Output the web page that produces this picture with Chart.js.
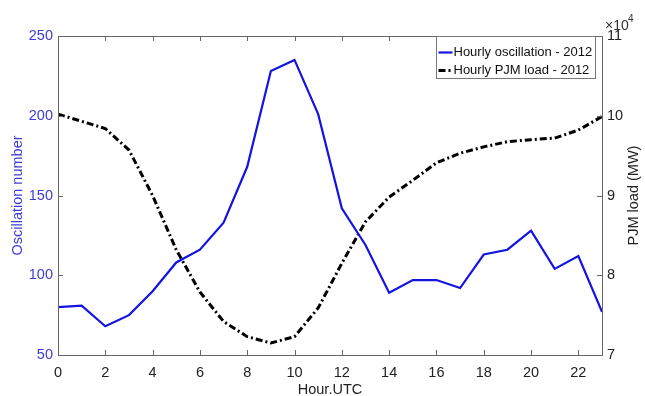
<!DOCTYPE html>
<html>
<head>
<meta charset="utf-8">
<script src="https://cdn.jsdelivr.net/npm/chart.js@4"></script>
<style>
  html, body { margin: 0; padding: 0; background: #fff; }
  #wrap { width: 645px; height: 396px; }
</style>
</head>
<body>
<div id="wrap"><canvas id="oscChart" width="645" height="396"></canvas></div>
<script>
const hours = [0, 1, 2, 3, 4, 5, 6, 7, 8, 9, 10, 11, 12, 13, 14, 15, 16, 17, 18, 19, 20, 21, 22, 23];
const oscillation = [80, 81, 68, 75, 90, 108, 116, 133, 168, 228, 235, 201, 142, 119, 89, 97, 97, 92, 113, 116, 128, 104, 112, 77];
const pjmLoad = [100200, 99300, 98400, 95700, 90000, 83200, 77900, 74200, 72300, 71500, 72300, 75900,
  81500, 86700, 89800, 91900, 94100, 95300, 96100, 96750, 97000, 97200, 98200, 99900];
const seriesNames = ["Hourly oscillation - 2012", "Hourly PJM load - 2012"];
const xTicks = [0, 2, 4, 6, 8, 10, 12, 14, 16, 18, 20, 22];

const FONT = "'Liberation Sans', Arial, Helvetica, sans-serif";
const AXIS = "#666";
const BLUE = "rgb(20, 20, 225)";
const BLUE_TEXT = "rgb(60, 60, 215)";
const LOAD_DASH = [7, 3, 2, 3];

// box, inward tick marks, in-plot legend, right title and exponent
const matlabFrame = {
  id: "matlabFrame",
  afterDatasetsDraw(chart) {
    const { ctx, chartArea: a, scales } = chart;
    const len = 5;
    ctx.save();
    ctx.strokeStyle = AXIS;
    ctx.lineWidth = 1;
    ctx.strokeRect(Math.round(a.left) + 0.5, Math.round(a.top) + 0.5,
      Math.round(a.right - a.left), Math.round(a.bottom - a.top));
    ctx.beginPath();
    scales.x.ticks.forEach((t) => {
      const px = Math.round(scales.x.getPixelForValue(t.value)) + 0.5;
      ctx.moveTo(px, a.bottom); ctx.lineTo(px, a.bottom - len);
      ctx.moveTo(px, a.top); ctx.lineTo(px, a.top + len);
    });
    scales.y.ticks.forEach((t) => {
      const py = Math.round(scales.y.getPixelForValue(t.value)) + 0.5;
      ctx.moveTo(a.left, py); ctx.lineTo(a.left + len, py);
    });
    scales.y1.ticks.forEach((t) => {
      const py = Math.round(scales.y1.getPixelForValue(t.value)) + 0.5;
      ctx.moveTo(a.right, py); ctx.lineTo(a.right - len, py);
    });
    ctx.stroke();

    // legend box in the top right corner
    const bx = 436.5, by = a.top + 0.5, bw = 159, bh = 42;
    ctx.fillStyle = "#fff";
    ctx.fillRect(bx, by, bw, bh);
    ctx.strokeStyle = "#777";
    ctx.strokeRect(bx, by, bw, bh);
    ctx.font = "13px " + FONT;
    ctx.textBaseline = "middle";
    ctx.textAlign = "left";
    chart.data.datasets.forEach((ds, i) => {
      const ly = by + 16 + i * 18;
      ctx.beginPath();
      ctx.strokeStyle = ds.borderColor;
      ctx.lineWidth = ds.borderWidth;
      ctx.setLineDash(ds.borderDash || []);
      ctx.moveTo(bx + 2, ly);
      ctx.lineTo(bx + 16, ly);
      ctx.stroke();
      ctx.setLineDash([]);
      ctx.fillStyle = "#111";
      ctx.fillText(ds.label, bx + 17, ly);
    });

    // right axis title, reading upward
    ctx.save();
    ctx.translate(634, (a.top + a.bottom) / 2);
    ctx.rotate(-Math.PI / 2);
    ctx.font = "14.5px " + FONT;
    ctx.fillStyle = "#222";
    ctx.textAlign = "center";
    ctx.textBaseline = "middle";
    ctx.fillText("PJM load (MW)", 0, 0);
    ctx.restore();

    // exponent of the right axis
    ctx.fillStyle = "#333";
    ctx.textAlign = "left";
    ctx.textBaseline = "alphabetic";
    ctx.font = "14px " + FONT;
    ctx.fillText("\u00d710", 605, 30);
    ctx.font = "10px " + FONT;
    ctx.fillText("4", 628, 22);
    ctx.restore();
  },
};

new Chart(document.getElementById("oscChart"), {
  type: "line",
  data: {
    datasets: [
      {
        label: seriesNames[0],
        data: hours.map((h, i) => ({ x: h, y: oscillation[i] })),
        borderColor: BLUE,
        borderWidth: 2.2,
        pointRadius: 0,
        tension: 0,
        yAxisID: "y",
      },
      {
        label: seriesNames[1],
        data: hours.map((h, i) => ({ x: h, y: pjmLoad[i] })),
        borderColor: "#000",
        borderWidth: 3,
        borderDash: LOAD_DASH,
        pointRadius: 0,
        tension: 0,
        yAxisID: "y1",
      },
    ],
  },
  options: {
    responsive: false,
    animation: false,
    layout: { padding: { top: 36, left: 0, right: 0, bottom: 0 } },
    plugins: { legend: { display: false }, tooltip: { enabled: false } },
    scales: {
      x: {
        type: "linear",
        min: 0,
        max: 23,
        afterBuildTicks: (s) => { s.ticks = xTicks.map((v) => ({ value: v })); },
        afterFit: (s) => { s.height = 41; },
        grid: { display: false, drawTicks: false },
        border: { display: false },
        ticks: { color: "#222", padding: 9, font: { family: FONT, size: 14.5 } },
        title: {
          display: true,
          text: "Hour.UTC",
          color: "#222",
          padding: { top: 0, bottom: -1 },
          font: { family: FONT, size: 14.5, lineHeight: 1 },
        },
      },
      y: {
        position: "left",
        min: 50,
        max: 250,
        afterFit: (s) => { s.width = 58; },
        grid: { display: false, drawTicks: false },
        border: { display: false },
        ticks: { stepSize: 50, color: BLUE_TEXT, padding: 5, font: { family: FONT, size: 14.5 } },
        title: {
          display: true,
          text: "Oscillation number",
          color: BLUE_TEXT,
          padding: { top: 11, bottom: 0 },
          font: { family: FONT, size: 14.5, lineHeight: 1 },
        },
      },
      y1: {
        position: "right",
        min: 70000,
        max: 110000,
        afterFit: (s) => { s.width = 43; },
        grid: { display: false, drawTicks: false },
        border: { display: false },
        ticks: {
          stepSize: 10000,
          color: "#222",
          padding: 5,
          font: { family: FONT, size: 14.5 },
          callback: (v) => v / 10000,
        },
      },
    },
  },
  plugins: [matlabFrame],
});
</script>
</body>
</html>
